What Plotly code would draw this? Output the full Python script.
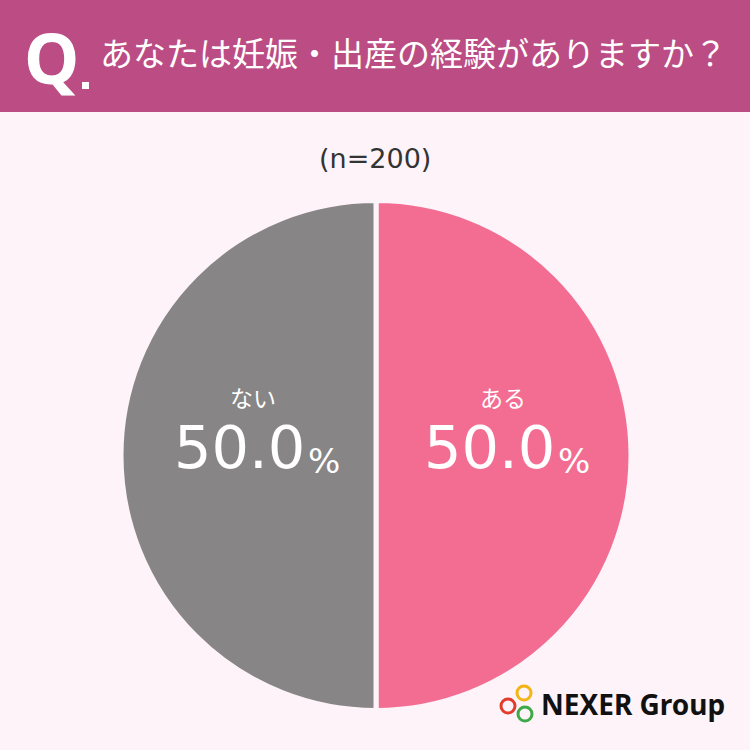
import plotly.graph_objects as go

labels = ["ある", "ない"]
values = [50.0, 50.0]
colors = ["#F36D92", "#878586"]
title_text = "あなたは妊娠・出産の経験がありますか？"
n_text = "(n=200)"

W = H = 750
def px(x):
    return x / W
def py(y):
    return 1 - y / H

JP = "Noto Sans CJK JP"
BG = "#FDF3F8"

fig = go.Figure(go.Pie(
    labels=labels, values=values, sort=False, direction="clockwise", rotation=0,
    marker=dict(colors=colors, line=dict(color=BG, width=5)),
    textinfo="none",
    domain=dict(x=[px(121), px(631)], y=[py(711), py(200)]),
    hoverinfo="skip", showlegend=False,
))

shapes = [
    dict(type="rect", xref="paper", yref="paper", x0=0, x1=1, y0=py(112), y1=1,
         fillcolor="#BC4C84", line=dict(width=0), layer="below"),
    dict(type="rect", xref="paper", yref="paper", x0=px(82), x1=px(89), y0=py(89), y1=py(82),
         fillcolor="white", line=dict(width=0)),
]
# NEXER logo circles
for cx, cy, col in [(524, 693, "#F2B516"), (508, 706, "#E23C2C"), (525, 714, "#3DAA47")]:
    r = 7
    shapes.append(dict(type="circle", xref="paper", yref="paper",
                       x0=px(cx - r), x1=px(cx + r), y0=py(cy + r), y1=py(cy - r),
                       line=dict(color=col, width=3), fillcolor="rgba(0,0,0,0)"))

annotations = [
    dict(x=px(22), y=py(57), xref="paper", yref="paper", text="<b>Q</b>", showarrow=False,
         xanchor="left", yanchor="middle", font=dict(family="Noto Sans", size=70, color="white")),
    dict(x=px(98), y=py(52), xref="paper", yref="paper", text=title_text, showarrow=False,
         xanchor="left", yanchor="middle", font=dict(family=JP, size=33, color="white")),
    dict(x=px(375), y=py(158), xref="paper", yref="paper", text=n_text, showarrow=False,
         xanchor="center", yanchor="middle", font=dict(family="DejaVu Sans", size=27, color="#333333")),
    dict(x=px(539), y=py(704), xref="paper", yref="paper", text="<b>NEXER Group</b>", showarrow=False,
         xanchor="left", yanchor="middle", font=dict(family="Noto Sans", size=28, color="#111111")),
]

# slice labels and values (ある on the right, ない on the left)
centers = {"ある": 503, "ない": 253}
for lab, val in zip(labels, values):
    cx = centers[lab]
    annotations.append(dict(x=px(cx), y=py(397), xref="paper", yref="paper", text=lab,
                            showarrow=False, xanchor="center", yanchor="middle",
                            font=dict(family=JP, size=23, color="white")))
    annotations.append(dict(x=px(cx + 54), y=py(447), xref="paper", yref="paper", text=f"{val:.1f}",
                            showarrow=False, xanchor="right", yanchor="middle",
                            font=dict(family="DejaVu Sans", size=59, color="white")))
    annotations.append(dict(x=px(cx + 53), y=py(461), xref="paper", yref="paper", text="%",
                            showarrow=False, xanchor="left", yanchor="middle",
                            font=dict(family="DejaVu Sans", size=34, color="white")))

fig.update_layout(
    width=W, height=H, margin=dict(l=0, r=0, t=0, b=0),
    paper_bgcolor=BG, plot_bgcolor=BG,
    shapes=shapes, annotations=annotations,
)
fig.write_html("out.html", config={"displayModeBar": False},
               post_script="document.body.style.margin='0';document.body.style.overflow='hidden';")
